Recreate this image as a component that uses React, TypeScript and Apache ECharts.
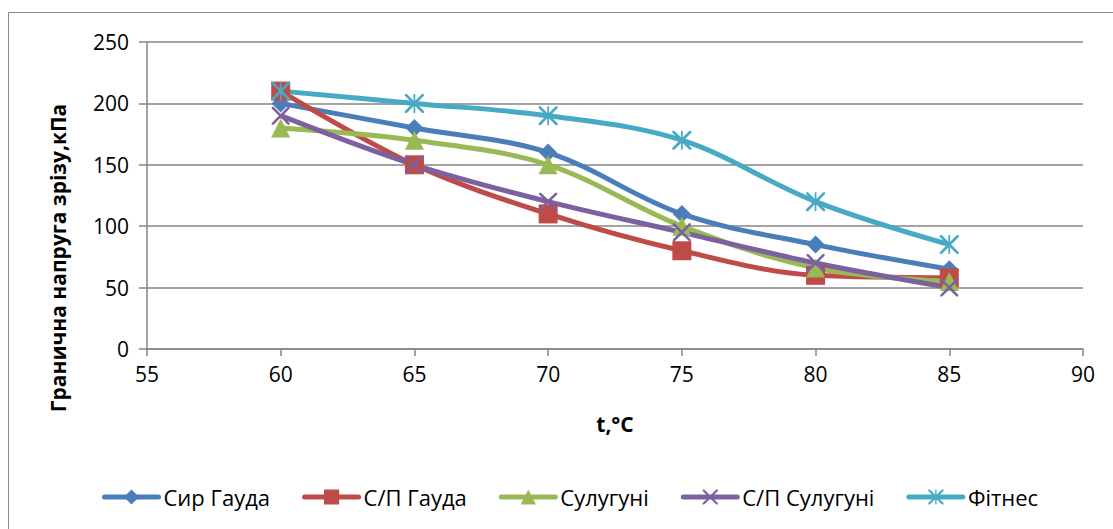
import React, { useEffect, useRef } from "react";
import * as echarts from "echarts";

// Temperature, °C
const temperatures = [60, 65, 70, 75, 80, 85];

// Ultimate shear stress, kPa
const sirGauda = [200, 180, 160, 110, 85, 65];
const spGauda = [210, 150, 110, 80, 60, 58];
const suluguni = [180, 170, 150, 100, 66, 55];
const spSuluguni = [190, 150, 120, 95, 70, 50];
const fitnes = [210, 200, 190, 170, 120, 85];

const seriesNames = ["Сир Гауда", "С/П Гауда", "Сулугуні", "С/П Сулугуні", "Фітнес"];
const seriesColors = ["#4A7EBB", "#BE4B48", "#98B954", "#7D60A0", "#46AAC5"];

const yTitle = "Гранична напруга зрізу,кПа";
const xTitle = "t,°C";

const yTicks = { min: 0, max: 250, interval: 50 };
const xTicks = { min: 55, max: 90, interval: 5 };

const crossPath =
  "path://M0,0 L2,0 L10,8 L18,0 L20,0 L20,2 L12,10 L20,18 L20,20 L18,20 L10,12 L2,20 L0,20 L0,18 L8,10 L0,2 Z";
const starPath =
  "path://M0,0 L2,0 L10,8 L18,0 L20,0 L20,2 L12,10 L20,18 L20,20 L18,20 L10,12 L2,20 L0,20 L0,18 L8,10 L0,2 Z M9.1,0 L10.9,0 L10.9,20 L9.1,20 Z";

const symbols = ["diamond", "rect", "triangle", crossPath, starPath];
const symbolSizes = [18, 19, 19, 18, 19];

const FONT = "'Open Sans', 'Noto Sans', sans-serif";

export default function App() {
  const ref = useRef<HTMLDivElement>(null);

  useEffect(() => {
    document.body.style.margin = "0";
    if (!ref.current) return;
    const chart = echarts.init(ref.current, null, { renderer: "svg" });

    const values = [sirGauda, spGauda, suluguni, spSuluguni, fitnes];

    chart.setOption({
      animation: false,
      backgroundColor: "#ffffff",
      textStyle: { fontFamily: FONT },
      graphic: [
        {
          type: "rect",
          shape: { x: 8.5, y: 12.5, width: 1120, height: 540 },
          style: { fill: "none", stroke: "#8c8c8c", lineWidth: 1 },
          silent: true,
        },
        {
          type: "text",
          x: 58,
          y: 258,
          rotation: Math.PI / 2,
          style: {
            text: yTitle,
            fontFamily: FONT,
            fontSize: 21,
            fontWeight: "bold",
            fill: "#000",
            align: "center",
            verticalAlign: "middle",
          },
          silent: true,
        },
      ],
      grid: { left: 147, right: 30, top: 42, bottom: 180 },
      legend: {
        bottom: 16,
        left: 97,
        itemWidth: 54,
        itemHeight: 19,
        itemGap: 32,
        lineStyle: { width: 5, cap: "round" },
        textStyle: { fontFamily: FONT, fontSize: 22, color: "#000" },
        data: seriesNames,
      },
      xAxis: {
        type: "value",
        min: xTicks.min,
        max: xTicks.max,
        interval: xTicks.interval,
        name: xTitle,
        nameLocation: "middle",
        nameGap: 64,
        nameTextStyle: { fontFamily: FONT, fontSize: 21, fontWeight: "bold", color: "#000" },
        axisLine: { show: true, lineStyle: { color: "#868686", width: 1.5 } },
        axisTick: { show: true, length: 7, lineStyle: { color: "#868686", width: 1.5 } },
        axisLabel: { fontFamily: FONT, fontSize: 21, color: "#000", margin: 14 },
        splitLine: { show: false },
      },
      yAxis: {
        type: "value",
        min: yTicks.min,
        max: yTicks.max,
        interval: yTicks.interval,
        axisLine: { show: true, lineStyle: { color: "#868686", width: 1.5 } },
        axisTick: { show: true, length: 8, lineStyle: { color: "#868686", width: 1.5 } },
        axisLabel: { fontFamily: FONT, fontSize: 21, color: "#000", margin: 18 },
        splitLine: { show: true, lineStyle: { color: "#868686", width: 1.5 } },
      },
      series: seriesNames.map((name, i) => ({
        name,
        type: "line",
        smooth: 0.35,
        data: temperatures.map((t, j) => [t, values[i][j]]),
        symbol: symbols[i],
        symbolSize: symbolSizes[i],
        color: seriesColors[i],
        lineStyle: { width: 5, color: seriesColors[i] },
        itemStyle: { color: seriesColors[i] },
      })),
    });

    return () => chart.dispose();
  }, []);

  return <div ref={ref} style={{ width: 1113, height: 529 }} />;
}
